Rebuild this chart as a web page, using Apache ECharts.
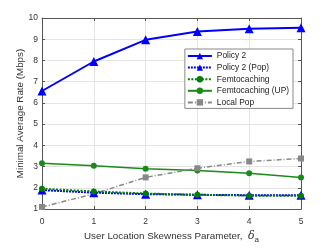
<!DOCTYPE html>
<html><head><meta charset="utf-8">
<script src="https://cdn.jsdelivr.net/npm/echarts@6/dist/echarts.min.js"></script>
<style>html,body{margin:0;padding:0;background:#fff}#c{width:332px;height:249px}</style>
</head><body><div id="c"></div>
<script>
var categories = [0, 1, 2, 3, 4, 5];
var policy2 = [6.56, 7.95, 8.97, 9.36, 9.49, 9.54];
var policy2Pop = [1.89, 1.77, 1.70, 1.67, 1.65, 1.65];
var femto = [1.95, 1.83, 1.73, 1.67, 1.63, 1.62];
var femtoUP = [3.15, 3.04, 2.90, 2.81, 2.69, 2.48];
var localPop = [1.10, 1.71, 2.49, 2.92, 3.24, 3.38];
var yTicks = [1, 2, 3, 4, 5, 6, 7, 8, 9, 10];

function pts(arr){ return categories.map(function(x,i){ return [x, arr[i]]; }); }
var chart = echarts.init(document.getElementById('c'), null, {renderer:'canvas'});
var font = 'Liberation Sans, Arial, sans-serif';
var axisCommon = {
  axisLine:{show:true, onZero:false, lineStyle:{color:'#555', width:1}},
  axisTick:{show:true, inside:true, length:3, lineStyle:{color:'#555'}},
  splitLine:{show:true, lineStyle:{color:'#e4e4e4', width:1}},
  axisLabel:{color:'#333', fontSize:8.5, fontFamily:font}
};
chart.setOption({
  animation:false,
  grid:{left:42, right:31, top:18, bottom:35, show:false},
  legend:{
    right:39, top:49, orient:'vertical', itemWidth:24, itemHeight:8, itemGap:3.6,
    backgroundColor:'#fff', borderColor:'#888', borderWidth:1, borderRadius:0,
    padding:[3,4,2,2],
    textStyle:{fontSize:8.4, fontFamily:font, color:'#222'},
    data:['Policy 2','Policy 2 (Pop)','Femtocaching','Femtocaching (UP)','Local Pop']
  },
  xAxis:[{
    type:'value', min:0, max:5, interval:1, position:'bottom',
    name:'User Location Skewness Parameter,  {i|δ}{s|a}', nameLocation:'middle', nameGap:19,
    nameMoveOverlap:false,
    nameTextStyle:{fontSize:9.8, fontFamily:font, color:'#333', rich:{
      i:{fontSize:11, fontStyle:'italic', fontFamily:'DejaVu Serif, serif', color:'#333'},
      s:{fontSize:8, fontFamily:font, color:'#333', padding:[8,0,0,0]}
    }},
    axisLine:axisCommon.axisLine, axisTick:axisCommon.axisTick, splitLine:axisCommon.splitLine,
    axisLabel:axisCommon.axisLabel
  },{
    type:'value', min:0, max:5, interval:1, position:'top',
    axisLine:axisCommon.axisLine, axisTick:axisCommon.axisTick, splitLine:{show:false}, axisLabel:{show:false}
  }],
  yAxis:[{
    type:'value', min:1, max:10, interval:1, position:'left',
    name:'Minimal Average Rate (Mbps)', nameLocation:'middle', nameGap:17,
    nameMoveOverlap:false,
    nameTextStyle:{fontSize:9.8, fontFamily:font, color:'#333'},
    axisLine:axisCommon.axisLine, axisTick:axisCommon.axisTick, splitLine:axisCommon.splitLine,
    axisLabel:{color:'#333', fontSize:8.5, fontFamily:font, margin:4, formatter:function(v){return yTicks.indexOf(v)>=0?String(v):'';}}
  },{
    type:'value', min:1, max:10, interval:1, position:'right',
    axisLine:axisCommon.axisLine, axisTick:axisCommon.axisTick, splitLine:{show:false}, axisLabel:{show:false}
  }],
  series:[
    {name:'Policy 2', type:'line', data:pts(policy2), symbol:'triangle', symbolSize:9,
      lineStyle:{color:'#0000ff', width:2}, itemStyle:{color:'#0000ff'}, z:5},
    {name:'Policy 2 (Pop)', type:'line', data:pts(policy2Pop), symbol:'triangle', symbolSize:9,
      lineStyle:{color:'#0000ff', width:2, type:[2,1]}, itemStyle:{color:'#0000ff'}, z:4},
    {name:'Femtocaching', type:'line', data:pts(femto), symbol:'circle', symbolSize:6,
      lineStyle:{color:'#008000', width:2, type:[2,1.5]}, itemStyle:{color:'#008000'}, z:4},
    {name:'Femtocaching (UP)', type:'line', data:pts(femtoUP), symbol:'circle', symbolSize:6,
      lineStyle:{color:'#1a8a1a', width:1.5}, itemStyle:{color:'#1a8a1a'}, z:3},
    {name:'Local Pop', type:'line', data:pts(localPop), symbol:'rect', symbolSize:6,
      lineStyle:{color:'#888888', width:1.5, type:[5,2,1,2]}, itemStyle:{color:'#888888'}, z:3}
  ]
});
</script></body></html>
